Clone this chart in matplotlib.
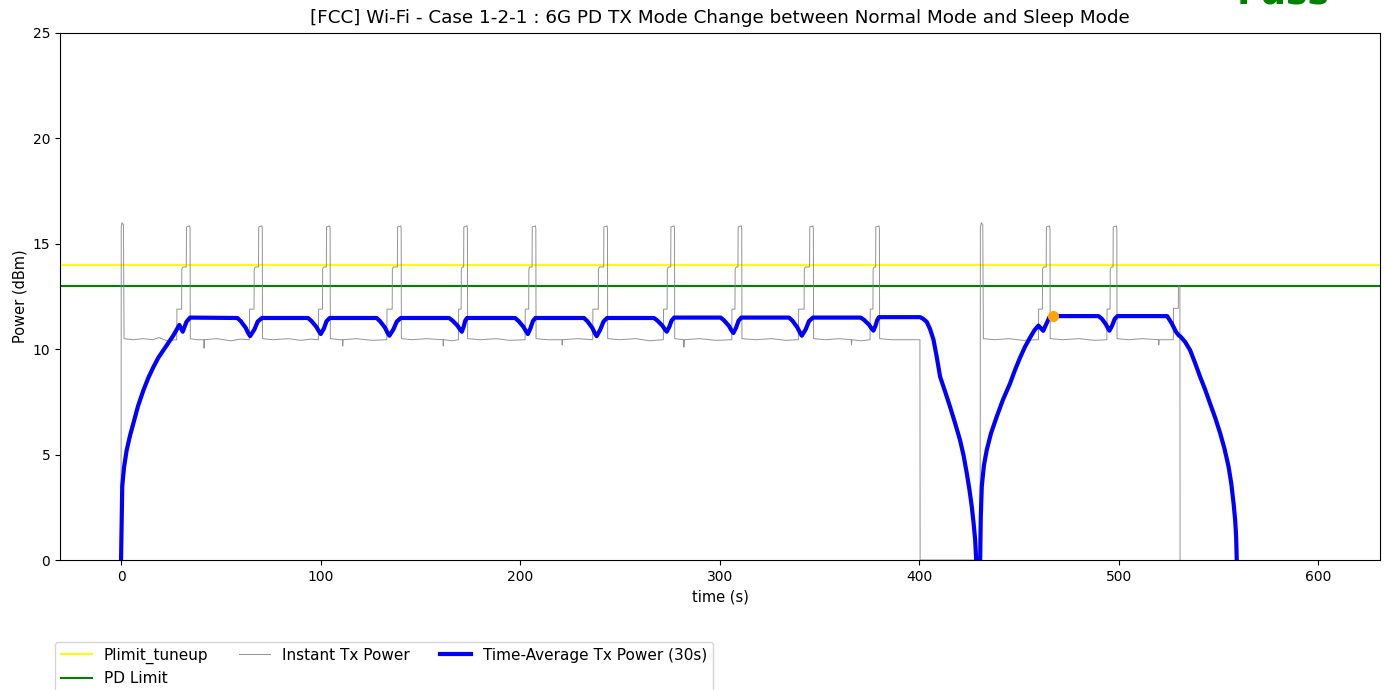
import matplotlib
matplotlib.use("Agg")
import matplotlib.pyplot as plt

title = "[FCC] Wi-Fi - Case 1-2-1 : 6G PD TX Mode Change between Normal Mode and Sleep Mode"
plimit_tuneup = 14.0
pd_limit = 13.0

inst_time = [
    0.0, 0.1, 0.5, 1.2, 1.5, 6.0, 11.0, 16.0, 19.0, 23.0,
    27.9, 28.0, 30.35, 30.45, 30.95, 32.7, 32.8, 34.4, 34.6, 34.7,
    38.0, 41.5, 41.6, 41.8, 48.0, 55.0, 60.0,
    64.3, 64.4, 66.65, 66.75, 67.25, 68.9, 69.0, 70.6, 70.8, 70.9,
    76.0, 84.0, 90.0, 95.0,
    98.9, 99.0, 100.95, 101.05, 101.55, 102.9, 103.0, 104.6, 104.8, 104.9,
    110.0, 111.0, 111.1, 111.3, 118.0, 126.0,
    133.2, 133.3, 135.9, 136.0, 136.5, 138.5, 138.6, 140.2, 140.4, 140.5,
    146.0, 153.0, 161.4, 161.5, 161.7, 166.0,
    169.1, 169.2, 170.45, 170.55, 171.05, 171.7, 171.8, 173.4, 173.6, 173.7,
    180.0, 188.0, 195.0,
    202.5, 202.6, 204.3, 204.4, 204.9, 206.0, 206.1, 207.7, 207.9, 208.0,
    214.0, 221.0, 221.1, 221.3, 229.0,
    236.4, 236.5, 239.2, 239.3, 239.8, 241.9, 242.0, 243.6, 243.8, 243.9,
    250.0, 258.0, 265.0,
    271.8, 271.9, 273.7, 273.8, 274.3, 275.5, 275.6, 277.2, 277.4, 277.5,
    282.0, 282.1, 282.3, 290.0, 298.0,
    306.1, 306.2, 307.7, 307.8, 308.3, 309.2, 309.3, 310.9, 311.1, 311.2,
    318.0, 326.0, 333.0,
    339.5, 339.6, 342.35, 342.45, 342.95, 345.1, 345.2, 346.8, 347.0, 347.1,
    353.0, 360.0, 366.0, 366.1, 366.3, 371.0,
    375.4, 375.5, 376.85, 376.95, 377.45, 378.2, 378.3, 379.9, 380.1, 380.2,
    386.0, 394.0, 400.4, 400.5, 430.6,
    430.7, 431.2, 431.9, 432.2, 438.0, 445.0, 452.0,
    459.8, 459.9, 461.8, 461.9, 462.4, 463.7, 463.8, 465.4, 465.6, 465.7,
    472.0, 480.0, 488.0,
    494.1, 494.2, 495.7, 495.8, 496.3, 497.2, 497.3, 498.9, 499.1, 499.2,
    505.0, 512.0, 520.0, 520.1, 520.3, 527.4, 527.5, 529.9, 530.0, 530.7, 530.8,
]
inst_power = [
    0.0, 15.8, 16.0, 15.9, 10.5, 10.45, 10.5, 10.45, 10.55, 10.4,
    10.45, 11.9, 11.9, 13.8, 13.9, 13.9, 15.8, 15.85, 15.7, 10.5,
    10.45, 10.45, 10.05, 10.45, 10.5, 10.4, 10.48,
    10.45, 11.9, 11.9, 13.8, 13.9, 13.9, 15.8, 15.85, 15.7, 10.5,
    10.45, 10.5, 10.42, 10.48,
    10.45, 11.9, 11.9, 13.8, 13.9, 13.9, 15.8, 15.85, 15.7, 10.5,
    10.45, 10.45, 10.15, 10.45, 10.5, 10.42,
    10.45, 11.9, 11.9, 13.8, 13.9, 13.9, 15.8, 15.85, 15.7, 10.5,
    10.45, 10.5, 10.45, 10.15, 10.45, 10.4,
    10.45, 11.9, 11.9, 13.8, 13.9, 13.9, 15.8, 15.85, 15.7, 10.5,
    10.45, 10.5, 10.42,
    10.45, 11.9, 11.9, 13.8, 13.9, 13.9, 15.8, 15.85, 15.7, 10.5,
    10.45, 10.45, 10.2, 10.45, 10.5,
    10.45, 11.9, 11.9, 13.8, 13.9, 13.9, 15.8, 15.85, 15.7, 10.5,
    10.45, 10.5, 10.4,
    10.45, 11.9, 11.9, 13.8, 13.9, 13.9, 15.8, 15.85, 15.7, 10.5,
    10.45, 10.1, 10.45, 10.5, 10.42,
    10.45, 11.9, 11.9, 13.8, 13.9, 13.9, 15.8, 15.85, 15.7, 10.5,
    10.45, 10.5, 10.42,
    10.45, 11.9, 11.9, 13.8, 13.9, 13.9, 15.8, 15.85, 15.7, 10.5,
    10.45, 10.5, 10.45, 10.2, 10.45, 10.4,
    10.45, 11.9, 11.9, 13.8, 13.9, 13.9, 15.8, 15.85, 15.7, 10.5,
    10.45, 10.45, 10.45, 0.0, 0.0,
    15.8, 16.0, 15.9, 10.5, 10.45, 10.5, 10.42,
    10.45, 11.9, 11.9, 13.8, 13.9, 13.9, 15.8, 15.85, 15.7, 10.5,
    10.45, 10.5, 10.42,
    10.45, 11.9, 11.9, 13.8, 13.9, 13.9, 15.8, 15.85, 15.7, 10.5,
    10.45, 10.5, 10.45, 10.2, 10.45, 10.45, 11.94, 11.94, 13.0, 13.0, 0.0,
]

avg_time = [
    0.0, 0.6, 1.5, 2.8, 4.5, 6.2, 8.5, 11.2, 13.7, 16.2, 18.7, 21.2, 23.7, 26.2,
    28.0, 29.2, 30.9, 32.8, 34.6,
    58.3, 60.0, 62.5, 63.7, 64.7, 66.8, 68.5, 70.6,
    93.7, 95.4, 97.9, 99.1, 100.1, 101.7, 103.0, 104.6,
    128.1, 129.8, 132.3, 133.5, 134.5, 136.5, 138.2, 140.2,
    164.4, 166.1, 168.6, 169.8, 170.8, 171.7, 172.5, 173.4,
    197.5, 199.2, 201.7, 202.9, 203.9, 205.2, 206.4, 207.7,
    232.0, 233.7, 236.2, 237.4, 238.4, 240.2, 241.8, 243.6,
    267.1, 268.8, 271.3, 272.5, 273.5, 274.8, 275.9, 277.2,
    300.5, 302.2, 304.7, 305.9, 306.9, 308.3, 309.5, 310.9,
    334.8, 336.5, 339.0, 340.2, 341.2, 343.2, 344.8, 346.8,
    370.7, 372.4, 374.9, 376.1, 377.1, 378.1, 379.0, 379.9,
    400.5, 401.9, 403.8, 405.5, 407.2, 408.9, 410.5, 413.0, 415.5, 418.0, 420.5,
    422.3, 423.9, 425.2, 426.4, 427.3, 428.1, 428.6, 429.0, 430.2, 430.6,
    430.9, 431.4, 432.5, 433.9, 436.0, 438.9, 442.0, 445.6, 448.0, 450.6, 453.0,
    455.6, 457.8, 459.8, 462.2, 465.3, 467.2,
    489.9, 491.5, 493.5, 494.5, 495.4, 496.8, 498.0, 499.4,
    524.3, 526.6, 528.7, 530.2, 530.8, 533.3, 535.8, 538.3, 540.8, 543.3, 545.8,
    548.4, 550.9, 553.0, 555.1, 556.5, 557.6, 558.4, 558.9, 559.2, 559.5,
]
avg_power = [
    0.0, 3.5, 4.4, 5.2, 5.9, 6.5, 7.3, 8.05, 8.65, 9.15, 9.6, 9.95, 10.3, 10.65,
    10.95, 11.15, 10.83, 11.3, 11.5,
    11.48, 11.33, 11.01, 10.77, 10.62, 10.93, 11.31, 11.48,
    11.48, 11.34, 11.06, 10.86, 10.72, 10.99, 11.33, 11.48,
    11.48, 11.33, 11.02, 10.79, 10.64, 10.94, 11.31, 11.48,
    11.48, 11.36, 11.12, 10.95, 10.83, 11.06, 11.35, 11.48,
    11.48, 11.34, 11.06, 10.86, 10.72, 10.99, 11.33, 11.48,
    11.48, 11.33, 11.01, 10.77, 10.62, 10.93, 11.31, 11.48,
    11.48, 11.36, 11.12, 10.95, 10.83, 11.06, 11.35, 11.5,
    11.5, 11.37, 11.1, 10.9, 10.77, 11.03, 11.35, 11.5,
    11.5, 11.35, 11.03, 10.8, 10.64, 10.95, 11.33, 11.5,
    11.5, 11.39, 11.16, 10.99, 10.88, 11.1, 11.38, 11.52,
    11.52, 11.45, 11.3, 10.95, 10.45, 9.6, 8.7, 8.0, 7.27, 6.5, 5.69,
    4.95, 4.11, 3.35, 2.53, 1.75, 0.95, 0.0, -6.0, -6.0, 0.0,
    2.0, 3.48, 4.5, 5.22, 6.0, 6.8, 7.6, 8.38, 9.0, 9.6, 10.1,
    10.55, 10.9, 11.12, 10.87, 11.52, 11.57,
    11.57, 11.45, 11.2, 11.02, 10.88, 11.13, 11.43, 11.57,
    11.57, 11.23, 10.83, 10.65, 10.62, 10.35, 9.96, 9.35, 8.7, 8.1, 7.43,
    6.75, 6.01, 5.3, 4.43, 3.6, 2.69, 1.9, 1.1, 0.0, -6.0,
]

marker_time = [467.2]
marker_power = [11.57]

fig = plt.figure(figsize=(13.84, 6.90), dpi=100)
ax = fig.add_axes([60 / 1384, 130 / 690, 1320 / 1384, 527 / 690])

ax.axhline(plimit_tuneup, color="yellow", lw=1.5, label="Plimit_tuneup")
ax.axhline(pd_limit, color="green", lw=1.5, label="PD Limit")
ax.plot(inst_time, inst_power, color="gray", lw=0.7, alpha=0.85, label="Instant Tx Power")
ax.plot(avg_time, avg_power, color="blue", lw=3, label="Time-Average Tx Power (30s)")
ax.plot(marker_time, marker_power, "o", color="orange", ms=7)

ax.set_xlim(-30.6, 631)
ax.set_ylim(0, 25)
ax.set_xlabel("time (s)", fontsize=10.5)
ax.set_ylabel("Power (dBm)", fontsize=10.5)
ax.set_title(title, fontsize=13.2, pad=7)

fig.text(1330 / 1384, 1 - 3.5 / 690, "Pass", ha="right", va="baseline",
         fontsize=26, fontweight="bold", color="green")

ax.legend(loc="upper left", bbox_to_anchor=(55 / 1384, 1 - 641.5 / 690),
          bbox_transform=fig.transFigure, borderaxespad=0, ncol=3, fontsize=11)

fig.savefig("out.png", dpi=100)
